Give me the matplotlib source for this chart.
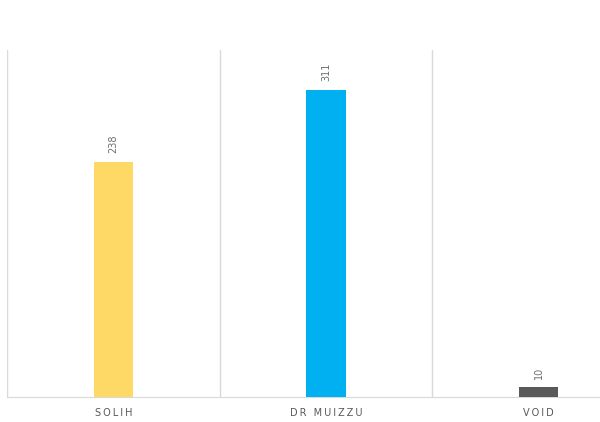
import numpy as np
import matplotlib
matplotlib.use("Agg")
import matplotlib.pyplot as plt

# data
categories = ["SOLIH", "DR MUIZZU", "VOID"]
votes = [238, 311, 10]
colors = ["#FFD966", "#00B0F0", "#595959"]

W, H = 600, 422
fig = plt.figure(figsize=(W / 100, H / 100), dpi=100)
# plot area runs past the right edge, as in the reference
ax = fig.add_axes([7 / W, (H - 397) / H, (645 - 7) / W, (397 - 50) / H])

x = np.arange(len(categories))
ax.bar(x, votes, width=0.185, color=colors, zorder=3)

ax.set_xlim(-0.5, len(categories) - 0.5)
ax.set_ylim(0, 351)

# vertical separators between categories
for b in np.arange(-0.5, len(categories), 1.0):
    ax.axvline(b, color="#d9d9d9", lw=1, zorder=1)

for s in ["top", "right", "left"]:
    ax.spines[s].set_visible(False)
ax.spines["bottom"].set_color("#d9d9d9")
ax.set_yticks([])
ax.set_xticks(x)
ax.set_xticklabels(["\u2009".join(c) for c in categories], fontsize=7, color="#595959")
ax.tick_params(axis="x", length=0, pad=8)

for xi, v in zip(x, votes):
    ax.annotate(str(v), (xi, v), xytext=(0, 6), textcoords="offset points",
                rotation=90, ha="center", va="bottom", fontsize=7,
                color="#6e6e6e")

fig.savefig("out.png", dpi=100)
